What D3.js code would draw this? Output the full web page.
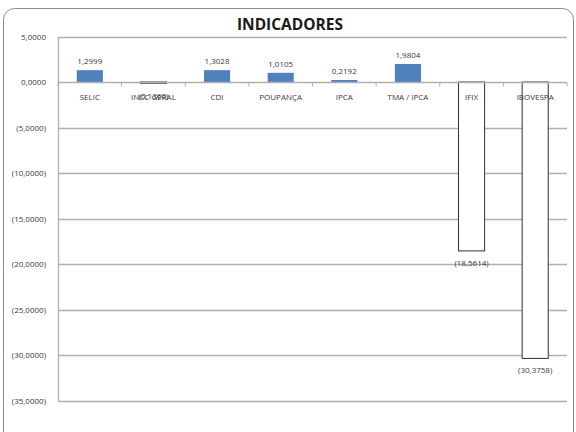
<!DOCTYPE html>
<html>
<head>
<meta charset="utf-8">
<script src="https://cdn.jsdelivr.net/npm/d3@7"></script>
<style>
html, body { margin: 0; padding: 0; background: #fff; overflow: hidden; }
text { font-family: "Open Sans", "Liberation Sans", sans-serif; fill: #3a3a3a; }
</style>
</head>
<body>
<script>

// values
var categories = ['SELIC', 'INCC GERAL', 'CDI', 'POUPANÇA', 'IPCA', 'TMA / IPCA', 'IFIX', 'IBOVESPA'];
var values = [1.2999, -0.1360, 1.3028, 1.0105, 0.2192, 1.9804, -18.5614, -30.3758];
var yTicks = [5, 0, -5, -10, -15, -20, -25, -30, -35];

// note: "top" is taken by window.top, so plot edges get their own names
var w = 576, h = 432,
    plotL = 58, plotR = 567, plotT = 36.5, plotB = 400.5;

var svg = d3.select('body').append('svg')
  .attr('width', w)
  .attr('height', h);

// chart border
svg.append('rect')
  .attr('x', 3.5).attr('y', 8.5)
  .attr('width', 570).attr('height', 440)
  .attr('rx', 11)
  .attr('fill', 'none')
  .attr('stroke', '#8c8c8c');

var x = d3.scaleBand().domain(categories).range([plotL, plotR]).paddingInner(0.59).paddingOuter(0.295);
var band = (plotR - plotL) / categories.length;
var y = d3.scaleLinear().domain([-35, 5]).range([plotB, plotT]);

function fmt(v) {
  var s = d3.format('.4f')(Math.abs(v)).replace('.', ',');
  return v < 0 ? '(' + s + ')' : s;
}

// gridlines
svg.append('g').selectAll('line')
  .data(yTicks.filter(function(d){ return d !== 0; }))
  .enter().append('line')
  .attr('x1', plotL).attr('x2', plotR)
  .attr('y1', function(d){ return Math.round(y(d)) + 0.5; })
  .attr('y2', function(d){ return Math.round(y(d)) + 0.5; })
  .attr('stroke', '#b0b0b0').attr('stroke-width', 1.3);

// y axis
var yAxis = svg.append('g')
  .attr('transform', 'translate(' + plotL + ',0)')
  .call(d3.axisLeft(y).tickValues(yTicks).tickFormat(fmt).tickSize(0).tickPadding(12));
yAxis.select('.domain').attr('stroke', '#b0b0b0').attr('stroke-width', 1.3);
yAxis.selectAll('text')
  .style('font-family', '"Open Sans", sans-serif')
  .attr('font-size', 8).attr('fill', '#3a3a3a');

// bars (negative ones drawn white with outline, as in the source)
svg.append('g').selectAll('rect')
  .data(values)
  .enter().append('rect')
  .attr('x', function(d, i){ return x(categories[i]); })
  .attr('width', x.bandwidth())
  .attr('y', function(d){ return y(Math.max(0, d)); })
  .attr('height', function(d){ return Math.abs(y(d) - y(0)); })
  .attr('fill', function(d){ return d < 0 ? (d > -1 ? '#8a8a8a' : '#fff') : '#4f81bd'; })
  .attr('stroke', function(d){ return d < 0 ? '#303030' : 'none'; })
  .attr('stroke-width', 1);

// x axis on zero line
var xAxis = svg.append('g')
  .attr('transform', 'translate(0,' + (Math.round(y(0)) + 0.5) + ')');
xAxis.append('line')
  .attr('x1', plotL).attr('x2', plotR)
  .attr('stroke', '#b0b0b0').attr('stroke-width', 1.3);
xAxis.selectAll('line.tick')
  .data(d3.range(categories.length + 1))
  .enter().append('line')
  .attr('class', 'tick')
  .attr('x1', function(i){ return plotL + i * band; })
  .attr('x2', function(i){ return plotL + i * band; })
  .attr('y1', 0).attr('y2', 4)
  .attr('stroke', '#b0b0b0');
xAxis.selectAll('text')
  .data(categories)
  .enter().append('text')
  .attr('x', function(d){ return x(d) + x.bandwidth() / 2; })
  .attr('y', 17)
  .attr('text-anchor', 'middle')
  .attr('font-size', 8)
  .text(function(d){ return d; });

// value labels
svg.append('g').selectAll('text')
  .data(values)
  .enter().append('text')
  .attr('x', function(d, i){ return x(categories[i]) + x.bandwidth() / 2; })
  .attr('y', function(d, i){
    if (d >= 0) return y(d) - 6;
    if (i === 1) return y(0) + 17;
    return y(d) + 15;
  })
  .attr('text-anchor', 'middle')
  .attr('font-size', 8)
  .text(fmt);

// title
svg.append('text')
  .attr('x', 290).attr('y', 30)
  .attr('text-anchor', 'middle')
  .attr('font-size', 15.5)
  .attr('font-weight', 'bold')
  .style('fill', '#1a1a1a')
  .text('INDICADORES');

</script>
</body>
</html>
